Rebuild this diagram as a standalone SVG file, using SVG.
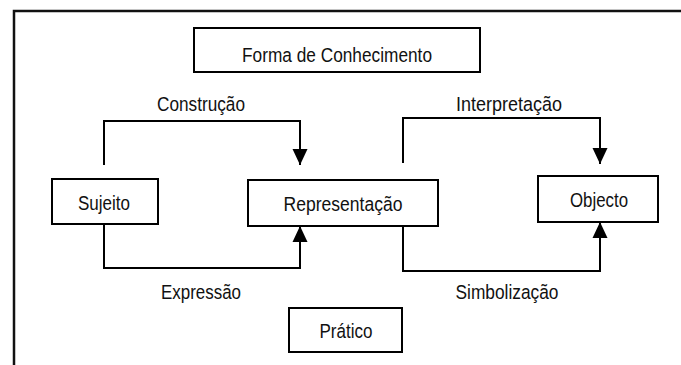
<svg xmlns="http://www.w3.org/2000/svg" width="681" height="365" viewBox="0 0 681 365">
<style>
.box{fill:#fff;stroke:#000;stroke-width:2}
.lbl{font-family:"Liberation Sans",Arial,sans-serif;font-size:20.5px;fill:#111;text-anchor:middle}
.con{fill:none;stroke:#000;stroke-width:2}
.frame{fill:none;stroke:#111;stroke-width:2.5}
</style>
<defs>
<marker id="ah" markerUnits="userSpaceOnUse" markerWidth="16" markerHeight="16" viewBox="0 0 16 15" refX="16" refY="7.5" orient="auto">
<path d="M0,0 L16,7.5 L0,15 z" fill="#000"/>
</marker>
</defs>
<path class="frame" d="M14,365 V11 H681"/>
<g id="forma">
<rect class="box" x="194" y="28" width="286" height="44"/>
<text class="lbl" x="337" y="62" textLength="190" lengthAdjust="spacingAndGlyphs">Forma de Conhecimento</text>
</g>
<g id="sujeito">
<rect class="box" x="52" y="179" width="106" height="45"/>
<text class="lbl" x="104" y="210" textLength="52" lengthAdjust="spacingAndGlyphs">Sujeito</text>
</g>
<g id="representacao">
<rect class="box" x="248" y="180" width="190" height="46"/>
<text class="lbl" x="343" y="211" textLength="119" lengthAdjust="spacingAndGlyphs">Representação</text>
</g>
<g id="objecto">
<rect class="box" x="538" y="176" width="120" height="46"/>
<text class="lbl" x="599" y="207" textLength="58" lengthAdjust="spacingAndGlyphs">Objecto</text>
</g>
<g id="pratico">
<rect class="box" x="289" y="308" width="113" height="44"/>
<text class="lbl" x="346" y="338" textLength="53" lengthAdjust="spacingAndGlyphs">Prático</text>
</g>
<g id="connectors">
<path class="con" d="M104,165 V121 H300 V165" marker-end="url(#ah)"/>
<path class="con" d="M104,224 V268 H300 V226" marker-end="url(#ah)"/>
<path class="con" d="M403,163 V118 H600 V164" marker-end="url(#ah)"/>
<path class="con" d="M403,226 V271 H600 V222" marker-end="url(#ah)"/>
<text class="lbl" x="201" y="111" textLength="88" lengthAdjust="spacingAndGlyphs">Construção</text>
<text class="lbl" x="509" y="111" textLength="106" lengthAdjust="spacingAndGlyphs">Interpretação</text>
<text class="lbl" x="201" y="299" textLength="80" lengthAdjust="spacingAndGlyphs">Expressão</text>
<text class="lbl" x="507" y="299" textLength="103" lengthAdjust="spacingAndGlyphs">Simbolização</text>
</g>
</svg>
